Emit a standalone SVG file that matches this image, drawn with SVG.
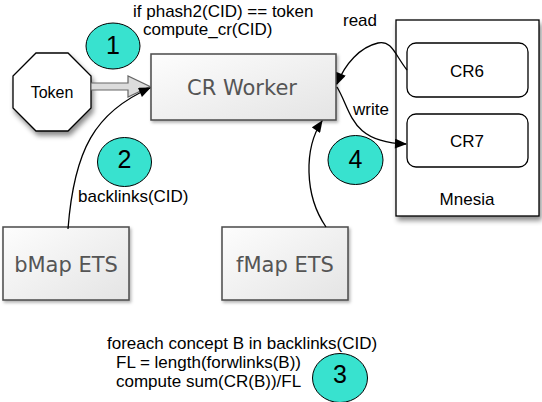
<svg xmlns="http://www.w3.org/2000/svg" width="542" height="402" viewBox="0 0 542 402">
<defs>
<linearGradient id="boxg" x1="0" y1="0" x2="1" y2="1">
<stop offset="0" stop-color="#fdfdfd"/>
<stop offset="1" stop-color="#e4e4e4"/>
</linearGradient>
<filter id="sh" x="-20%" y="-20%" width="150%" height="150%">
<feDropShadow dx="2" dy="4" stdDeviation="2.5" flood-color="#000" flood-opacity="0.45"/>
</filter>
<filter id="shs" x="-20%" y="-20%" width="150%" height="150%">
<feDropShadow dx="1.5" dy="2" stdDeviation="1.5" flood-color="#000" flood-opacity="0.3"/>
</filter>
<marker id="ah" viewBox="0 0 12 10" refX="11" refY="5" markerWidth="13" markerHeight="10" markerUnits="userSpaceOnUse" orient="auto">
<path d="M0,0 L12,5 L0,10 z" fill="#000"/>
</marker>
</defs>
<style>
.box{fill:url(#boxg);stroke:#4a4a4a;stroke-width:1.5;filter:url(#shs)}
.big{font-family:"DejaVu Sans",Verdana,sans-serif;font-size:21px;fill:#555;text-anchor:middle}
.lbl{font-family:"Liberation Sans",Arial,sans-serif;font-size:17px;fill:#000}
.mid{text-anchor:middle}
.num{font-family:"Liberation Sans",Arial,sans-serif;font-size:25px;fill:#000;text-anchor:middle}
.circ{fill:#38e2cf;stroke:#000;stroke-width:1}
.edge{fill:none;stroke:#000;stroke-width:1.3;marker-end:url(#ah)}
.rr{fill:#fff;stroke:#000;stroke-width:1.3}
</style>

<g id="token">
<polygon points="36,53 68,53 91,76 91,108 68,131 36,131 13,108 13,76" fill="#fff" stroke="#000" stroke-width="1.3" filter="url(#sh)"/>
<text x="52" y="98" class="lbl mid" style="font-size:16px">Token</text>
</g>

<g id="cr-worker">
<rect x="151" y="54" width="185" height="66" class="box"/>
<text x="242" y="95" class="big">CR Worker</text>
</g>

<g id="bmap">
<rect x="3" y="227" width="126" height="73" class="box"/>
<text x="66" y="272" class="big">bMap ETS</text>
</g>

<g id="fmap">
<rect x="222" y="227" width="126" height="73" class="box"/>
<text x="285" y="272" class="big">fMap ETS</text>
</g>

<g id="mnesia">
<rect x="396" y="20" width="143" height="196" fill="#fff" stroke="#000" stroke-width="1.3" filter="url(#sh)"/>
<text x="467" y="205" class="lbl mid">Mnesia</text>
</g>

<g id="cr6">
<rect x="407" y="43" width="121" height="54" rx="9" class="rr"/>
<text x="467" y="77" class="lbl mid">CR6</text>
</g>

<g id="cr7">
<rect x="407" y="114" width="121" height="53" rx="9" class="rr"/>
<text x="467" y="147" class="lbl mid">CR7</text>
</g>

<g id="step1">
<ellipse cx="113" cy="46" rx="27" ry="23" class="circ"/>
<text x="113" y="54" class="num">1</text>
</g>
<g id="step2">
<ellipse cx="124.5" cy="162" rx="27" ry="24.5" class="circ"/>
<text x="124.5" y="168" class="num">2</text>
</g>
<g id="step3">
<ellipse cx="340" cy="378" rx="27.5" ry="24.5" class="circ"/>
<text x="340" y="383" class="num">3</text>
</g>
<g id="step4">
<ellipse cx="355.5" cy="160" rx="27.5" ry="24.5" class="circ"/>
<text x="355.5" y="168" class="num">4</text>
</g>

<g id="connectors">
<path id="token-arrow" d="M91,83 L128,83 L128,76 L150,86.5 L128,97 L128,90 L91,90 Z" fill="#dcdcdc" stroke="#666" stroke-width="1.2"/>
<path d="M68,229 C74,150 95,112 150,88" class="edge"/>
<path d="M326,227 C304,195 304,148 322,121" class="edge"/>
<path d="M407,70 C395,55 392,40 378,43 C360,47 345,64 337,84" class="edge"/>
<path d="M337,87 C352,112 350,142 406,144" class="edge"/>
</g>

<g id="labels">
<text x="133" y="17" class="lbl">if phash2(CID) == token</text>
<text x="143" y="35" class="lbl">compute_cr(CID)</text>
<text x="78" y="202" class="lbl">backlinks(CID)</text>
<text x="343" y="26" class="lbl">read</text>
<text x="353" y="115" class="lbl">write</text>
<text x="107" y="349" class="lbl">foreach concept B in backlinks(CID)</text>
<text x="116" y="368" class="lbl">FL = length(forwlinks(B))</text>
<text x="116" y="387" class="lbl">compute sum(CR(B))/FL</text>
</g>
</svg>
